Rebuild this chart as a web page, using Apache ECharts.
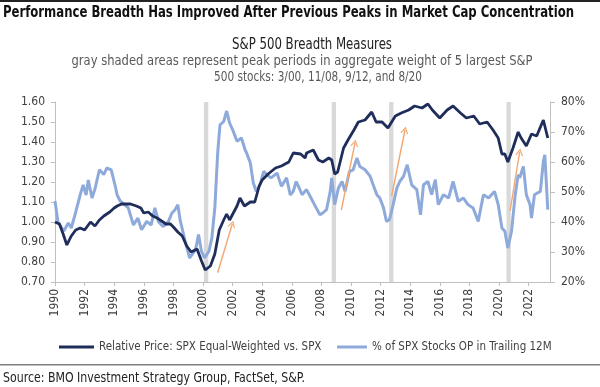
<!DOCTYPE html>
<html>
<head>
<meta charset="utf-8">
<script src="https://cdn.jsdelivr.net/npm/echarts@6/dist/echarts.min.js"></script>
<style>
html,body{margin:0;padding:0;background:#fff;}
#c{width:600px;height:387px;}
</style>
</head>
<body>
<div id="c"></div>
<script>
// ---- data ----
var relYears = [1990.0,1990.3,1990.55,1990.8,1991.1,1991.4,1991.7,1992.0,1992.4,1992.7,1993.0,1993.3,1993.7,1994.0,1994.2,1994.5,1994.8,1995.1,1995.5,1995.8,1996.0,1996.3,1996.6,1996.9,1997.1,1997.5,1997.8,1998.0,1998.3,1998.6,1998.9,1999.2,1999.6,1999.9,2000.15,2000.5,2000.8,2001.1,2001.4,2001.6,2001.8,2002.3,2002.5,2002.8,2003.2,2003.5,2003.8,2004.0,2004.4,2004.9,2005.3,2005.8,2006.1,2006.6,2006.9,2007.0,2007.45,2007.8,2008.1,2008.5,2008.7,2008.9,2009.1,2009.5,2009.8,2010.2,2010.5,2010.95,2011.4,2011.7,2012.1,2012.5,2013.0,2013.4,2013.9,2014.3,2014.8,2015.2,2015.5,2016.0,2016.5,2016.9,2017.4,2017.8,2018.3,2018.7,2019.2,2019.6,2019.95,2020.2,2020.4,2020.6,2020.95,2021.3,2021.5,2021.85,2022.2,2022.55,2023.0,2023.3];
var relValues = [1.00,0.99,0.94,0.885,0.93,0.96,0.97,0.96,1.00,0.98,1.01,1.03,1.05,1.07,1.08,1.09,1.09,1.09,1.08,1.07,1.045,1.05,1.03,1.02,1.01,0.99,0.99,0.975,0.95,0.93,0.88,0.85,0.865,0.805,0.76,0.78,0.84,0.96,1.01,1.04,1.01,1.08,1.12,1.08,1.10,1.10,1.18,1.21,1.24,1.27,1.28,1.30,1.345,1.34,1.32,1.345,1.36,1.31,1.30,1.32,1.31,1.24,1.25,1.37,1.41,1.46,1.50,1.51,1.55,1.50,1.50,1.47,1.53,1.545,1.56,1.58,1.57,1.59,1.56,1.52,1.56,1.58,1.545,1.52,1.53,1.49,1.50,1.46,1.42,1.34,1.34,1.30,1.37,1.45,1.42,1.38,1.44,1.43,1.51,1.42];

var opYears = [1990.0,1990.2,1990.6,1990.9,1991.1,1991.35,1991.7,1991.9,1992.1,1992.25,1992.5,1992.7,1993.0,1993.3,1993.5,1993.8,1994.05,1994.2,1994.4,1994.7,1994.95,1995.3,1995.6,1995.85,1996.2,1996.5,1996.75,1997.0,1997.3,1997.65,1997.9,1998.1,1998.3,1998.45,1998.8,1999.1,1999.5,1999.7,1999.9,2000.1,2000.4,2000.6,2000.8,2001.0,2001.15,2001.4,2001.6,2001.8,2002.05,2002.3,2002.6,2002.85,2002.95,2003.2,2003.4,2003.6,2003.85,2004.1,2004.3,2004.6,2005.0,2005.3,2005.65,2005.9,2006.1,2006.3,2006.7,2007.0,2007.3,2007.65,2007.9,2008.1,2008.35,2008.6,2008.7,2008.9,2009.15,2009.4,2009.6,2009.9,2010.15,2010.4,2010.6,2010.95,2011.3,2011.5,2011.75,2011.95,2012.2,2012.4,2012.6,2012.85,2013.1,2013.3,2013.55,2013.8,2014.1,2014.45,2014.7,2014.9,2015.2,2015.45,2015.7,2015.9,2016.25,2016.6,2016.9,2017.25,2017.6,2017.9,2018.25,2018.6,2018.95,2019.3,2019.7,2019.95,2020.2,2020.4,2020.6,2020.85,2021.1,2021.3,2021.4,2021.65,2021.85,2022.1,2022.2,2022.4,2022.8,2023.0,2023.1,2023.3];
var opValues = [47,40,37,39.7,38,42.4,49,52.4,49,54,48,51,57.4,55.8,58,57.4,52.4,49,47,45.8,44.7,39,41.3,37.4,40.2,39,44.7,40,38.5,40,43,44,45.8,40.8,33.5,28,30.8,35.8,30.2,28,30.2,34.7,44.7,63.5,72.4,73.5,77,73,70.2,66.9,68,64,63,59.7,53,50.2,52.4,56.9,55.8,54.7,56.3,51.9,54.7,49,50.2,53.5,49.1,50.8,48,44.7,42.4,43,44.1,50.2,54.7,45.8,51.3,53.5,50.2,56.9,57.4,61.3,58.5,57.4,55.2,52.4,49.1,48,44.7,40.2,40.8,45.8,51.3,53.5,55.2,59.1,52.4,50.8,42.4,52.4,53.5,49.1,54.1,45.8,49.1,48,53.5,46.9,48,45.8,44.7,40.2,49.1,48,50.2,45.8,38,36.9,31.3,36.9,49.1,55.8,54.7,58.5,49.1,45.8,41.3,49.1,50.2,60.2,62.4,44.1];

// peak concentration periods (3/00, 11/08, 9/12, 8/20)
var peakStart = [2000.06, 2008.70, 2012.58, 2020.51];
var peakEnd   = [2000.36, 2008.99, 2012.87, 2020.80];

// orange arrows, start and end points on the left-axis scale
var arrowFrom = [[2000.99, 0.746], [2009.35, 1.06], [2012.75, 1.13], [2020.75, 1.055]];
var arrowTo   = [[2001.98, 0.99], [2010.27, 1.395], [2013.65, 1.46], [2021.4, 1.35]];

var seriesNames = ['Relative Price: SPX Equal-Weighted vs. SPX', '% of SPX Stocks OP in Trailing 12M'];

var FONT = "'DejaVu Sans Condensed', 'DejaVu Sans', sans-serif";

function pairs(xs, ys){ var o=[]; for(var i=0;i<xs.length;i++) o.push([xs[i], ys[i]]); return o; }

var mctx = document.createElement('canvas').getContext('2d');
function fitScale(text, font, target){ mctx.font = font; var w = mctx.measureText(text).width; return target / w; }
function fitted(text, font, x, y, align, target, fill){
  var s = fitScale(text, font, target);
  return {type: 'text', x: x, y: y, scaleX: s, scaleY: 1,
          style: {text: text, font: font, fill: fill, textAlign: align, textVerticalAlign: 'middle'}};
}

var areas = [];
for (var i=0;i<peakStart.length;i++) areas.push([{xAxis: peakStart[i]}, {xAxis: peakEnd[i]}]);
var arrows = [];
for (var j=0;j<arrowFrom.length;j++) arrows.push([{coord: arrowFrom[j]}, {coord: arrowTo[j]}]);

var titleText = 'Performance Breadth Has Improved After Previous Peaks in Market Cap Concentration';
var sub1 = 'S&P 500 Breadth Measures';
var sub2 = 'gray shaded areas represent peak periods in aggregate weight of 5 largest S&P';
var sub3 = '500 stocks: 3/00, 11/08, 9/12, and 8/20';
var sourceText = 'Source: BMO Investment Strategy Group, FactSet, S&P.';

var chevron = 'path://M5,0 L10,10 L8.4,10 L5,3.2 L1.6,10 L0,10 Z';

var chart = echarts.init(document.getElementById('c'), null, {renderer:'canvas'});
chart.setOption({
  animation: false,
  backgroundColor: '#ffffff',
  textStyle: {fontFamily: FONT},
  grid: {left: 55, right: 50, top: 102, bottom: 105, containLabel: false},
  xAxis: {
    type: 'value', min: 1990, max: 2023.45, interval: 2,
    axisLine: {show: true, lineStyle: {color: '#bfbfbf', width: 1}},
    axisTick: {show: true, length: 4, lineStyle: {color: '#bfbfbf'}},
    splitLine: {show: false},
    axisLabel: {rotate: 90, margin: 7, color: '#404040', fontSize: 12, fontFamily: FONT, showMaxLabel: false,
      formatter: function(v){ return (Math.abs(v - Math.round(v)) < 1e-6 && Math.round(v) % 2 === 0) ? String(Math.round(v)) : ''; }}
  },
  yAxis: [{
    type: 'value', min: 0.7, max: 1.6, interval: 0.1,
    axisLine: {show: true, lineStyle: {color: '#bfbfbf'}},
    axisTick: {show: true, length: 4, lineStyle: {color: '#bfbfbf'}},
    splitLine: {show: false},
    axisLabel: {margin: 10, color: '#404040', fontSize: 12, fontFamily: FONT, formatter: function(v){ return v.toFixed(2); }}
  }, {
    type: 'value', min: 20, max: 80, interval: 10, position: 'right',
    axisLine: {show: true, lineStyle: {color: '#bfbfbf'}},
    axisTick: {show: true, length: 5, lineStyle: {color: '#bfbfbf'}},
    splitLine: {show: false},
    axisLabel: {margin: 11, color: '#404040', fontSize: 12, fontFamily: FONT, formatter: function(v){ return v + '%'; }}
  }],
  legend: [{
    left: 54, top: 336, itemGap: 10, itemWidth: 35, itemHeight: 3, icon: 'rect',
    textStyle: {color: '#404040', fontSize: 11.5, fontFamily: FONT},
    data: [seriesNames[0]]
  }, {
    left: 332, top: 336, itemGap: 10, itemWidth: 30, itemHeight: 3, icon: 'rect',
    textStyle: {color: '#404040', fontSize: 11.5, fontFamily: FONT},
    data: [seriesNames[1]]
  }],
  graphic: [
    {type: 'rect', left: 0, top: 0, shape: {width: 600, height: 2}, style: {fill: '#222'}},
    fitted(titleText, 'bold 16px ' + FONT, 3, 13, 'left', 571, '#111'),
    fitted(sub1, '15px ' + FONT, 312, 45, 'center', 160, '#222'),
    fitted(sub2, '14px ' + FONT, 302, 61, 'center', 461, '#595959'),
    fitted(sub3, '14px ' + FONT, 318, 77, 'center', 208, '#595959'),
    {type: 'rect', left: 0, top: 364, shape: {width: 600, height: 1.5}, style: {fill: '#808080'}},
    fitted(sourceText, '14px ' + FONT, 3, 378, 'left', 302, '#222')
  ],
  series: [
    {type: 'line', name: 'peaks', data: [], yAxisIndex: 0, silent: true, z: 1,
     markArea: {silent: true, itemStyle: {color: '#d9d9d9'}, data: areas}},
    {type: 'line', name: seriesNames[1], yAxisIndex: 1, data: pairs(opYears, opValues), symbol: 'none', z: 2,
     lineStyle: {color: '#8eaadb', width: 3}, itemStyle: {color: '#8eaadb'}},
    {type: 'line', name: seriesNames[0], yAxisIndex: 0, data: pairs(relYears, relValues), symbol: 'none', z: 3,
     lineStyle: {color: '#1f2d5a', width: 2.8}, itemStyle: {color: '#1f2d5a'}},
    {type: 'line', name: 'arrows', data: [], yAxisIndex: 0, silent: true, z: 4,
     markLine: {silent: true, symbol: ['none', chevron], symbolSize: [8, 7], label: {show: false},
       lineStyle: {color: '#f4a670', width: 1.4, type: 'solid'}, itemStyle: {color: '#f4a670'}, data: arrows}}
  ]
});
</script>
</body>
</html>
